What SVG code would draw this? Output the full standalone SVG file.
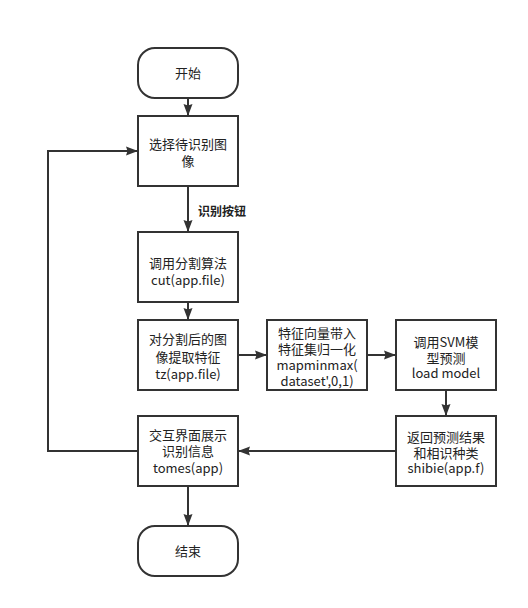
<svg xmlns="http://www.w3.org/2000/svg" width="528" height="608" viewBox="0 0 528 608">
<style>
.box{fill:#fff;stroke:#333;stroke-width:2}
.t{font-family:"Noto Sans CJK SC","Liberation Sans",sans-serif;font-size:13px;fill:#222;text-anchor:middle}
.lbl{font-family:"Noto Sans CJK SC","Liberation Sans",sans-serif;font-size:12px;font-weight:bold;fill:#222;text-anchor:start}
.c{fill:none;stroke:#333;stroke-width:2}
</style>
<defs>
<marker id="arr" markerUnits="userSpaceOnUse" markerWidth="14" markerHeight="10" refX="12" refY="5" orient="auto">
<path d="M0,0.5 L12,5 L0,9.5 L1.5,5 Z" fill="#333"/>
</marker>
</defs>
<rect width="528" height="608" fill="#fff"/>
<g id="connectors">
<line class="c" x1="188" y1="98" x2="188" y2="116" marker-end="url(#arr)"/>
<line class="c" x1="188" y1="186" x2="188" y2="232" marker-end="url(#arr)"/>
<line class="c" x1="188" y1="302" x2="188" y2="320" marker-end="url(#arr)"/>
<line class="c" x1="238" y1="355" x2="267" y2="355" marker-end="url(#arr)"/>
<line class="c" x1="367" y1="355" x2="396" y2="355" marker-end="url(#arr)"/>
<line class="c" x1="446" y1="390" x2="446" y2="416" marker-end="url(#arr)"/>
<line class="c" x1="396" y1="451" x2="238" y2="451" marker-end="url(#arr)"/>
<line class="c" x1="188" y1="486" x2="188" y2="526" marker-end="url(#arr)"/>
<polyline class="c" points="138,451 48,451 48,151 138,151" marker-end="url(#arr)"/>
<text class="lbl" x="198" y="215.5">识别按钮</text>
</g>
<g id="start">
<rect class="box" x="138" y="48" width="100" height="50" rx="17" ry="17"/>
<text class="t" x="188" y="77.5">开始</text>
</g>
<g id="select">
<rect class="box" x="138" y="116" width="100" height="70"/>
<text class="t" x="188" y="148.5">选择待识别图</text>
<text class="t" x="188" y="166">像</text>
</g>
<g id="cut">
<rect class="box" x="138" y="232" width="100" height="70"/>
<text class="t" x="188" y="268">调用分割算法</text>
<text class="t" x="188" y="285">cut(app.file)</text>
</g>
<g id="feature">
<rect class="box" x="138" y="320" width="100" height="70"/>
<text class="t" x="188" y="344">对分割后的图</text>
<text class="t" x="188" y="361.5">像提取特征</text>
<text class="t" x="188" y="379">tz(app.file)</text>
</g>
<g id="normalize">
<rect class="box" x="267" y="320" width="100" height="70"/>
<text class="t" x="317" y="337.5">特征向量带入</text>
<text class="t" x="317" y="353.5">特征集归一化</text>
<text class="t" x="317" y="369.5">mapminmax(</text>
<text class="t" x="317" y="385.5">dataset',0,1)</text>
</g>
<g id="svm">
<rect class="box" x="396" y="320" width="100" height="70"/>
<text class="t" x="446" y="346.5">调用SVM模</text>
<text class="t" x="446" y="362.5">型预测</text>
<text class="t" x="446" y="378">load model</text>
</g>
<g id="result">
<rect class="box" x="396" y="416" width="100" height="70"/>
<text class="t" x="446" y="441.5">返回预测结果</text>
<text class="t" x="446" y="457.5">和相识种类</text>
<text class="t" x="446" y="473">shibie(app.f)</text>
</g>
<g id="display">
<rect class="box" x="138" y="416" width="100" height="70"/>
<text class="t" x="188" y="439.5">交互界面展示</text>
<text class="t" x="188" y="455.5">识别信息</text>
<text class="t" x="188" y="472.5">tomes(app)</text>
</g>
<g id="end">
<rect class="box" x="138" y="526" width="100" height="50" rx="17" ry="17"/>
<text class="t" x="188" y="556">结束</text>
</g>
</svg>
